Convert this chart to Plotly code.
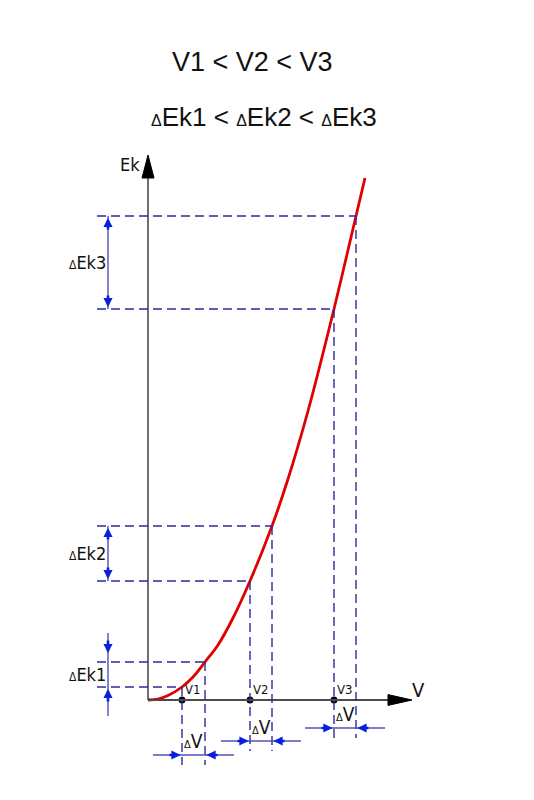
import plotly.graph_objects as go

# ---------------- data ----------------
curve_v = [0, 1.0, 2.0, 3.4, 4.5, 5.7, 7.0, 8.5, 10.2, 12.4, 14.0, 16.0, 18.6, 20.8, 21.7]
curve_ek = [0, 0.1, 0.45, 1.3, 2.3, 3.8, 5.5, 8.2, 11.9, 17.4, 22.1, 28.9, 39.1, 48.4, 52.2]

v_names = ["V1", "V2", "V3"]
v_start = [3.4, 10.2, 18.6]          # V1, V2, V3
v_end = [5.7, 12.4, 20.8]            # V + ΔV
ek_start = [1.3, 11.9, 39.1]         # Ek at V
ek_end = [3.8, 17.4, 48.4]           # Ek at V + ΔV
dek_names = ["ΔEk1", "ΔEk2", "ΔEk3"]

title1 = "V1 < V2 < V3"
title2_parts = ["Ek1", "Ek2", "Ek3"]

# ---------------- styles / layout constants ----------------
W, H = 534, 800
X_RANGE = [-14.8, 38.6]   # 10 px per unit
Y_RANGE = [-10.0, 70.0]
DASH_C = "#2c2c9a"
DIM_C = "#5050b4"
ARR_C = "#0a1ee0"
AX_C = "#222222"
NARROW = "DejaVu Sans Condensed, Liberation Sans Narrow, Liberation Sans, Arial"
SANS = "Liberation Sans, Arial"
small_d = lambda px: f"<span style='font-size:{px}px'>Δ</span>"

AXIS_V_END, AXIS_V_TIP = 24.2, 26.4
AXIS_E_END, AXIS_E_TIP = 52.2, 54.5
HW = 0.6

DIM_X = -4.0          # ΔEk dimension line
EXT_X = -5.1          # left end of horizontal dashed lines
dv_dim_y = [-5.5, -4.1, -2.8]   # ΔV dimension line heights

fig = go.Figure()
shapes = []
ann = []

# axes
shapes.append(dict(type="line", x0=0, y0=0, x1=AXIS_V_END, y1=0, line=dict(color="#4a4a4a", width=2)))
shapes.append(dict(type="line", x0=0, y0=0, x1=0, y1=AXIS_E_END, line=dict(color=AX_C, width=1.3)))
shapes.append(dict(type="path", path=f"M {AXIS_V_END-0.2} {-HW*0.9} L {AXIS_V_TIP} 0 L {AXIS_V_END-0.2} {HW*0.9} Z",
                   fillcolor="black", line=dict(color="black", width=1)))
shapes.append(dict(type="path", path=f"M {-HW} {AXIS_E_END} L 0 {AXIS_E_TIP} L {HW} {AXIS_E_END} Z",
                   fillcolor="black", line=dict(color="black", width=1)))

dash = dict(color=DASH_C, width=1.4, dash="9px,5px")
for i in range(3):
    vs, ve, es, ee = v_start[i], v_end[i], ek_start[i], ek_end[i]
    # horizontal dashed
    shapes.append(dict(type="line", x0=EXT_X, y0=es, x1=vs, y1=es, line=dash))
    shapes.append(dict(type="line", x0=EXT_X, y0=ee, x1=ve, y1=ee, line=dash))
    # vertical dashed
    yb = dv_dim_y[i] - 1.0
    shapes.append(dict(type="line", x0=vs, y0=es, x1=vs, y1=yb, line=dash))
    shapes.append(dict(type="line", x0=ve, y0=ee, x1=ve, y1=yb, line=dash))
    # ΔV dimension line (outside arrows)
    yd = dv_dim_y[i]
    shapes.append(dict(type="line", x0=vs - 2.9, y0=yd, x1=ve + 2.9, y1=yd, line=dict(color=DIM_C, width=1.4)))
    for hx, tx in ((vs, vs - 1.4), (ve, ve + 1.4)):
        ann.append(dict(x=hx - (0.15 if hx == vs else -0.15), y=yd, ax=tx, ay=yd, xref="x", yref="y", axref="x", ayref="y",
                        text="", showarrow=True, arrowhead=2, arrowsize=0.7, arrowwidth=2.6, arrowcolor=ARR_C, standoff=0))
    ann.append(dict(x=(vs + ve) / 2, y=yd + 0.1, text=small_d(11) + "V", showarrow=False,
                    xanchor="center", yanchor="bottom", font=dict(family=NARROW, size=19, color="#111")))
    # ΔEk dimension line
    if i == 0:
        shapes.append(dict(type="line", x0=DIM_X, y0=es - 2.9, x1=DIM_X, y1=ee + 2.9, line=dict(color=DIM_C, width=1.4)))
        pairs = ((ee + 0.9, ee + 2.3), (es - 0.2, es - 1.6))
    else:
        shapes.append(dict(type="line", x0=DIM_X, y0=es, x1=DIM_X, y1=ee, line=dict(color=DIM_C, width=1.4)))
        pairs = ((ee - 0.2, ee - 1.5), (es + 0.2, es + 1.5))
    for hy, ty in pairs:
        ann.append(dict(x=DIM_X, y=hy, ax=DIM_X, ay=ty, xref="x", yref="y", axref="x", ayref="y",
                        text="", showarrow=True, arrowhead=2, arrowsize=0.7, arrowwidth=2.6, arrowcolor=ARR_C, standoff=0))
    ann.append(dict(x=DIM_X - 0.05, y=(es + ee) / 2, text=small_d(12) + dek_names[i][1:], showarrow=False,
                    xanchor="right", yanchor="middle", font=dict(family=NARROW, size=18, color="#111")))
    # V labels
    ann.append(dict(x=vs + 0.1, y=0.15, text=v_names[i], showarrow=False, xanchor="left", yanchor="bottom",
                    font=dict(family=NARROW, size=13, color="#111")))

# curve
fig.add_trace(go.Scatter(x=curve_v, y=curve_ek, mode="lines", line=dict(color="#e00000", width=2.8, shape="spline"),
                         hoverinfo="skip"))
# dots at V1, V2, V3
fig.add_trace(go.Scatter(x=v_start, y=[0] * 3, mode="markers", marker=dict(color="black", size=7), hoverinfo="skip"))

# axis labels
ann.append(dict(x=-1.8, y=53.6, text="Ek", showarrow=False, xanchor="center", yanchor="middle",
                font=dict(family=NARROW, size=18, color="#111")))
ann.append(dict(x=27.0, y=1.0, text="V", showarrow=False, xanchor="center", yanchor="middle",
                font=dict(family=NARROW, size=20, color="#111")))

# titles
ann.append(dict(x=252.5 / W, y=1 - 62 / H, xref="paper", yref="paper", text=title1, showarrow=False,
                xanchor="center", yanchor="middle", font=dict(family=SANS, size=27, color="#111")))
t2 = " < ".join(small_d(16) + p for p in title2_parts)
ann.append(dict(x=264 / W, y=1 - 117 / H, xref="paper", yref="paper", text=t2, showarrow=False,
                xanchor="center", yanchor="middle", font=dict(family=SANS, size=26, color="#111")))

fig.update_layout(
    width=W, height=H, autosize=False,
    margin=dict(l=0, r=0, t=0, b=0),
    paper_bgcolor="white", plot_bgcolor="white",
    showlegend=False,
    xaxis=dict(range=X_RANGE, visible=False, fixedrange=True),
    yaxis=dict(range=Y_RANGE, visible=False, fixedrange=True),
    shapes=shapes, annotations=ann,
)
fig.write_html("out.html")
